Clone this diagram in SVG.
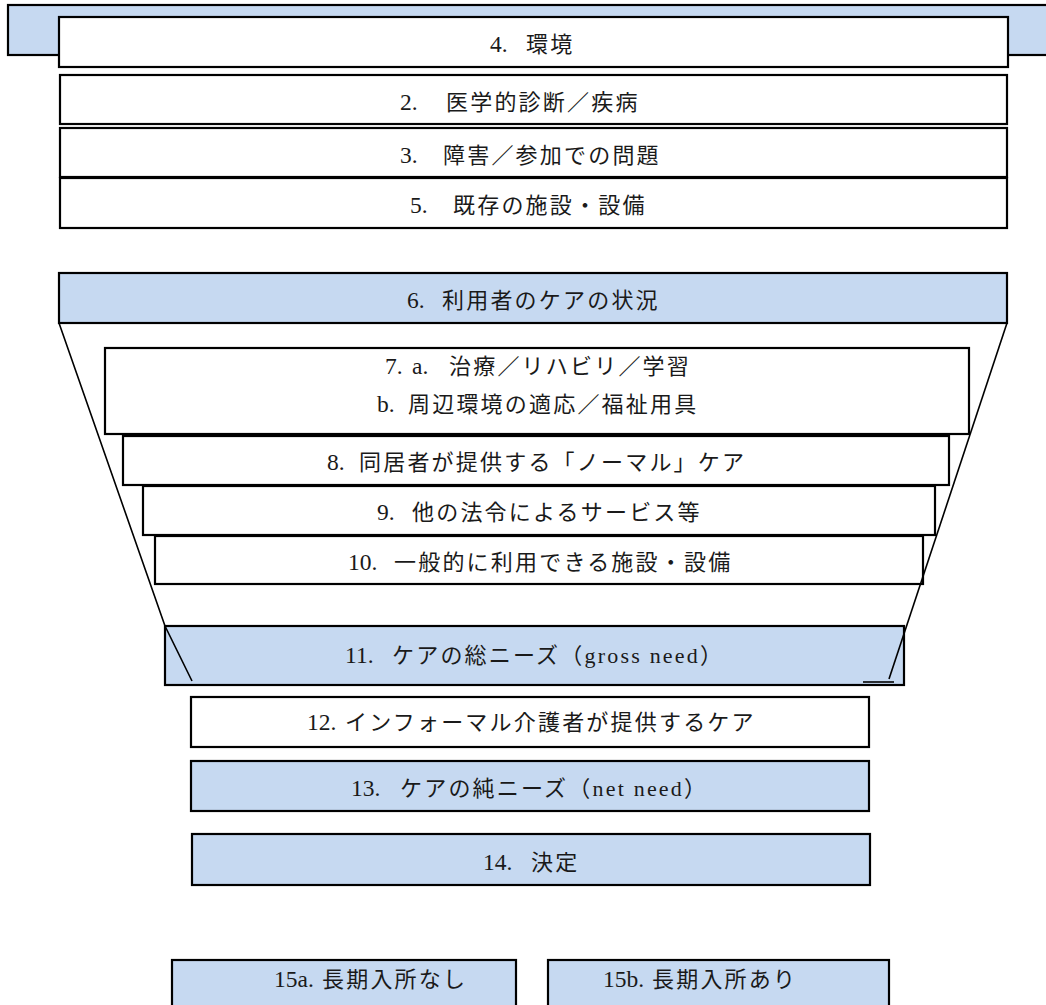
<svg xmlns="http://www.w3.org/2000/svg" width="1046" height="1005" viewBox="0 0 1046 1005">
<style>
.box{stroke:#000;stroke-width:2.2}
.blue{fill:#c6d9f1}
.white{fill:#fff}
.t{font-family:"Liberation Serif","Noto Sans CJK JP",serif;font-size:22px;letter-spacing:2.2px;fill:#1a1a1a}
.d{letter-spacing:0;font-size:23.5px}
.ln{stroke:#000;stroke-width:1.6;fill:none}
</style>
<rect width="1046" height="1005" fill="#fff"/>
<g id="n1"><rect class="box blue" x="8" y="5" width="1046" height="50"/></g>
<g id="n4"><rect class="box white" x="59" y="17" width="949" height="50"/><text class="t" x="490" y="52"><tspan class="d">4. </tspan><tspan x="526">環境</tspan></text></g>
<g id="n2"><rect class="box white" x="60" y="75" width="947" height="49"/><text class="t" x="400" y="110"><tspan class="d">2. </tspan><tspan x="446">医学的診断／疾病</tspan></text></g>
<g id="n3"><rect class="box white" x="60" y="128" width="947" height="49"/><text class="t" x="400" y="163"><tspan class="d">3. </tspan><tspan x="443">障害／参加での問題</tspan></text></g>
<g id="n5"><rect class="box white" x="60" y="178" width="947" height="50"/><text class="t" x="410" y="213"><tspan class="d">5. </tspan><tspan x="453">既存の施設・設備</tspan></text></g>
<g id="n6"><rect class="box blue" x="59" y="273" width="948" height="50"/><text class="t" x="407" y="308"><tspan class="d">6. </tspan><tspan x="442">利用者のケアの状況</tspan></text></g>
<g id="n7"><rect class="box white" x="105" y="348" width="864" height="86"/><text class="t" x="385" y="374"><tspan class="d">7. </tspan><tspan class="d" x="412">a. </tspan><tspan x="449">治療／リハビリ／学習</tspan></text><text class="t" x="377" y="412"><tspan class="d">b. </tspan><tspan x="408">周辺環境の適応／福祉用具</tspan></text></g>
<g id="n8"><rect class="box white" x="123" y="436" width="826" height="49"/><text class="t" x="327" y="470"><tspan class="d">8. </tspan><tspan x="359">同居者が提供する「ノーマル」ケア</tspan></text></g>
<g id="n9"><rect class="box white" x="143" y="486" width="792" height="49"/><text class="t" x="377" y="520"><tspan class="d">9. </tspan><tspan x="412">他の法令によるサービス等</tspan></text></g>
<g id="n10"><rect class="box white" x="155" y="536" width="768" height="48"/><text class="t" x="348" y="570"><tspan class="d">10. </tspan><tspan x="394">一般的に利用できる施設・設備</tspan></text></g>
<g id="n11"><rect class="box blue" x="165" y="626" width="739" height="59"/><text class="t" x="345" y="663"><tspan class="d">11. </tspan><tspan x="392">ケアの総ニーズ（gross need）</tspan></text></g>
<g id="n12"><rect class="box white" x="191" y="697" width="678" height="50"/><text class="t" x="307" y="730"><tspan class="d">12. </tspan><tspan x="345">インフォーマル介護者が提供するケア</tspan></text></g>
<g id="n13"><rect class="box blue" x="191" y="761" width="678" height="50"/><text class="t" x="351" y="796"><tspan class="d">13. </tspan><tspan x="400">ケアの純ニーズ（net need）</tspan></text></g>
<g id="n14"><rect class="box blue" x="192" y="834" width="678" height="51"/><text class="t" x="483" y="870"><tspan class="d">14. </tspan><tspan x="531">決定</tspan></text></g>
<g id="n15a"><rect class="box blue" x="172" y="960" width="344" height="52"/><text class="t" x="274" y="987"><tspan class="d">15a. </tspan><tspan x="322">長期入所なし</tspan></text></g>
<g id="n15b"><rect class="box blue" x="548" y="960" width="341" height="52"/><text class="t" x="603" y="987"><tspan class="d">15b. </tspan><tspan x="652">長期入所あり</tspan></text></g>
<g id="connectors">
<polyline class="ln" points="59,323 165,626 192,681"/>
<line class="ln" x1="1007" y1="323" x2="889" y2="679"/>
<line class="ln" x1="863" y1="682" x2="894" y2="682" stroke-width="2"/>
</g>
</svg>
